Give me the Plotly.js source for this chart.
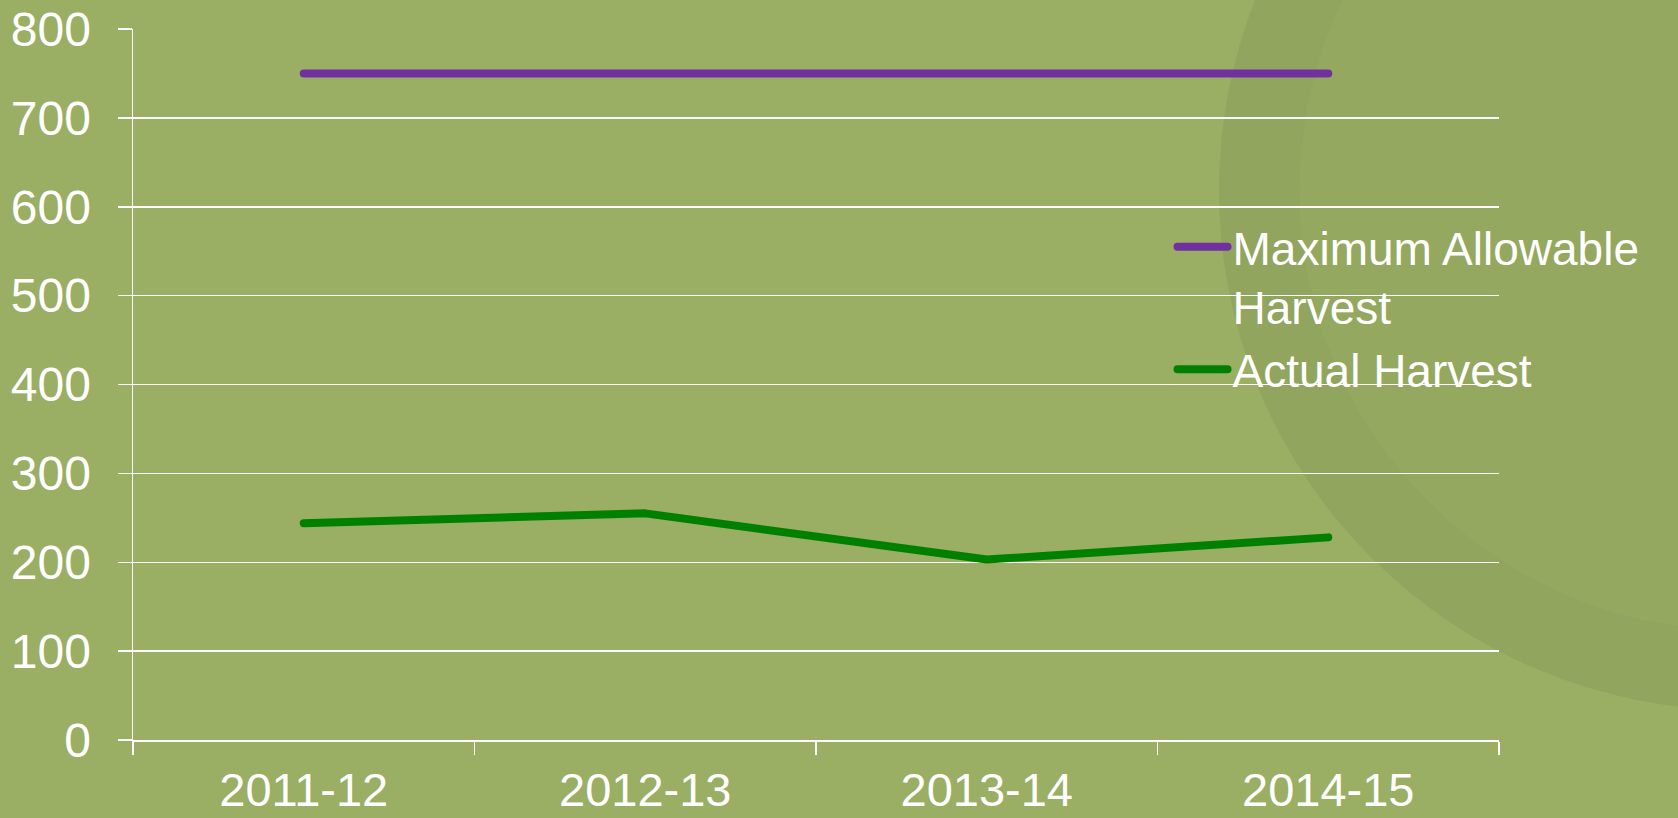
<!DOCTYPE html>
<html>
<head>
<meta charset="utf-8">
<script src="https://cdn.plot.ly/plotly-3.0.1.min.js"></script>
<style>
  html, body { margin: 0; padding: 0; background: #9AAE64; }
  #chart { width: 1678px; height: 818px; }
  .scatterlayer .js-line, .legendlines path { stroke-linecap: round; stroke-linejoin: round; }
</style>
</head>
<body>
<div id="chart"></div>
<script>
// ---- data ----
const seasons = ["2011-12", "2012-13", "2013-14", "2014-15"];
const maxAllowable = [750, 750, 750, 750];
const actualHarvest = [244, 255, 203, 228];
const seriesNames = ["Maximum Allowable<br>Harvest", "Actual Harvest"];
const yTicks = [0, 100, 200, 300, 400, 500, 600, 700, 800];

const bg = "#9AAE64";
const fontFam = "'Liberation Sans', Arial, sans-serif";

const traces = [
  {
    x: seasons, y: maxAllowable, name: seriesNames[0],
    type: "scatter", mode: "lines",
    line: { color: "#7030A0", width: 8 }
  },
  {
    x: seasons, y: actualHarvest, name: seriesNames[1],
    type: "scatter", mode: "lines",
    line: { color: "#008000", width: 8 }
  }
];

const layout = {
  width: 1678, height: 818,
  paper_bgcolor: bg,
  plot_bgcolor: "rgba(0,0,0,0)",
  margin: { l: 133, r: 179, t: 29, b: 78, pad: 0 },
  font: { family: fontFam, color: "#FFFFFF", size: 48 },
  showlegend: true,
  legend: {
    x: 0.761, xanchor: "left",
    y: 0.745, yanchor: "top",
    bgcolor: "rgba(0,0,0,0)",
    font: { family: fontFam, color: "#FFFFFF", size: 46 },
    itemwidth: 50,
    valign: "top",
    tracegroupgap: 0
  },
  xaxis: {
    type: "category",
    range: [-0.5, 3.5],
    showgrid: false,
    zeroline: false,
    showline: true, linecolor: "#FFFFFF", linewidth: 1.5,
    ticks: "outside", tickson: "boundaries", ticklen: 13, tickcolor: "#FFFFFF", tickwidth: 1.5,
    ticklabelstandoff: 8,
    tickfont: { family: fontFam, color: "#FFFFFF", size: 47 },
    fixedrange: true
  },
  yaxis: {
    range: [0, 800],
    tickvals: yTicks,
    showgrid: true, gridcolor: "#FFFFFF", gridwidth: 1.5,
    zeroline: false,
    showline: true, linecolor: "#FFFFFF", linewidth: 1.5,
    ticks: "outside", ticklen: 14, tickcolor: "#FFFFFF", tickwidth: 1.5,
    ticklabelstandoff: 17,
    tickfont: { family: fontFam, color: "#FFFFFF", size: 48 },
    fixedrange: true
  },
  shapes: [
    { type: "circle", xref: "paper", yref: "paper", layer: "below",
      x0: 0.795, x1: 1.557, y0: 0.042, y1: 1.505,
      fillcolor: "rgba(0,0,0,0.05)", line: { width: 0 } },
    { type: "circle", xref: "paper", yref: "paper", layer: "below",
      x0: 0.854, x1: 1.498, y0: 0.154, y1: 1.393,
      fillcolor: "rgba(154,174,100,0.45)", line: { width: 0 } }
  ]
};

Plotly.newPlot("chart", traces, layout, { displayModeBar: false, staticPlot: true });
</script>
</body>
</html>
